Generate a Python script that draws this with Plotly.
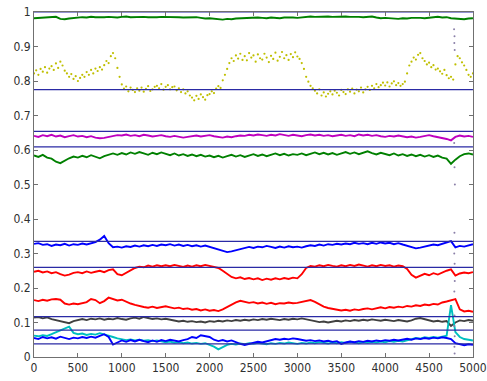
import plotly.graph_objects as go

x_step = 50
x_vals = list(range(0, 5001, x_step))
x_yel = list(range(0, 5001, 25))

green_top = [0.982,0.983,0.984,0.985,0.984,0.986,0.980,0.979,0.981,0.983,
 0.984,0.985,0.984,0.986,0.985,0.984,0.985,0.986,0.985,0.984,
 0.986,0.987,0.985,0.986,0.987,0.986,0.985,0.984,0.985,0.986,
 0.986,0.987,0.986,0.985,0.984,0.985,0.986,0.985,0.983,0.981,
 0.982,0.980,0.979,0.978,0.980,0.979,0.981,0.982,0.983,0.982,
 0.983,0.984,0.983,0.982,0.984,0.983,0.982,0.984,0.985,0.984,
 0.983,0.985,0.986,0.987,0.986,0.987,0.988,0.987,0.986,0.987,
 0.988,0.987,0.986,0.987,0.986,0.985,0.986,0.987,0.984,0.982,
 0.983,0.982,0.981,0.980,0.982,0.981,0.983,0.984,0.983,0.982,
 0.984,0.985,0.986,0.984,0.985,0.982,0.981,0.980,0.979,0.981,
 0.982]

yellow = [0.822,0.831,0.818,0.835,0.827,0.840,0.824,0.836,
 0.843,0.832,0.851,0.838,0.856,0.845,0.830,0.822,
 0.812,0.820,0.806,0.814,0.800,0.809,0.818,0.812,
 0.826,0.818,0.832,0.822,0.836,0.829,0.840,0.833,
 0.846,0.858,0.852,0.872,0.881,0.866,0.838,0.812,
 0.790,0.778,0.784,0.770,0.781,0.774,0.768,0.779,
 0.772,0.781,0.769,0.777,0.785,0.771,0.776,0.783,
 0.786,0.779,0.791,0.775,0.783,0.788,0.776,0.782,
 0.784,0.773,0.779,0.768,0.776,0.764,0.770,0.758,
 0.752,0.744,0.757,0.748,0.761,0.753,0.746,0.759,
 0.762,0.770,0.765,0.778,0.785,0.780,0.802,0.818,
 0.835,0.852,0.866,0.858,0.874,0.865,0.879,0.861,
 0.872,0.860,0.881,0.868,0.874,0.856,0.877,0.866,
 0.862,0.879,0.868,0.855,0.873,0.864,0.882,0.859,
 0.870,0.884,0.866,0.875,0.861,0.878,0.869,0.883,
 0.871,0.864,0.852,0.835,0.812,0.798,0.786,0.779,
 0.772,0.764,0.776,0.758,0.767,0.755,0.763,0.770,
 0.761,0.772,0.766,0.758,0.774,0.768,0.762,0.776,
 0.769,0.778,0.764,0.775,0.770,0.781,0.767,0.776,
 0.783,0.774,0.786,0.779,0.791,0.782,0.788,0.795,
 0.787,0.796,0.784,0.793,0.799,0.788,0.794,0.786,
 0.791,0.798,0.822,0.845,0.856,0.868,0.862,0.876,
 0.881,0.866,0.858,0.848,0.853,0.840,0.846,0.833,
 0.836,0.828,0.821,0.832,0.817,0.808,0.812,0.804,
 0.848,0.872,0.866,0.854,0.845,0.832,0.818,0.812,
 0.822]

magenta = [0.641,0.638,0.643,0.640,0.644,0.639,0.642,0.637,0.640,0.643,
 0.639,0.641,0.637,0.640,0.636,0.634,0.635,0.638,0.641,0.643,
 0.642,0.645,0.641,0.643,0.640,0.644,0.642,0.639,0.641,0.643,
 0.640,0.638,0.641,0.639,0.636,0.638,0.640,0.642,0.639,0.641,
 0.643,0.640,0.638,0.636,0.639,0.637,0.640,0.642,0.641,0.644,
 0.642,0.645,0.643,0.641,0.644,0.642,0.646,0.643,0.641,0.644,
 0.642,0.640,0.643,0.645,0.642,0.644,0.641,0.643,0.640,0.642,
 0.644,0.641,0.643,0.640,0.645,0.642,0.644,0.641,0.643,0.640,
 0.638,0.641,0.639,0.642,0.640,0.637,0.639,0.636,0.638,0.641,
 0.643,0.640,0.638,0.635,0.632,0.628,0.638,0.642,0.639,0.641,
 0.638]

green_mid = [0.584,0.580,0.586,0.578,0.575,0.566,0.562,0.570,0.576,0.581,
 0.578,0.583,0.579,0.585,0.581,0.576,0.582,0.587,0.590,0.586,
 0.591,0.587,0.593,0.589,0.594,0.590,0.586,0.592,0.588,0.593,
 0.589,0.585,0.590,0.584,0.588,0.583,0.587,0.582,0.586,0.581,
 0.584,0.579,0.583,0.578,0.582,0.586,0.581,0.585,0.580,0.584,
 0.588,0.583,0.587,0.582,0.586,0.590,0.585,0.589,0.584,0.588,
 0.586,0.590,0.585,0.589,0.593,0.588,0.592,0.587,0.591,0.586,
 0.590,0.594,0.589,0.593,0.588,0.592,0.596,0.591,0.587,0.592,
 0.589,0.585,0.590,0.584,0.588,0.583,0.587,0.582,0.586,0.581,
 0.585,0.580,0.584,0.578,0.575,0.560,0.572,0.582,0.588,0.590,
 0.587]

blue_upper = [0.328,0.330,0.325,0.327,0.322,0.326,0.324,0.328,0.323,0.327,
 0.325,0.329,0.326,0.330,0.333,0.340,0.351,0.330,0.318,0.320,
 0.317,0.321,0.319,0.323,0.320,0.324,0.321,0.325,0.322,0.326,
 0.324,0.327,0.323,0.326,0.322,0.325,0.321,0.324,0.320,0.323,
 0.319,0.316,0.312,0.307,0.304,0.306,0.309,0.313,0.317,0.319,
 0.316,0.320,0.318,0.322,0.319,0.316,0.320,0.317,0.321,0.318,
 0.320,0.317,0.321,0.324,0.322,0.326,0.323,0.327,0.325,0.328,
 0.326,0.329,0.327,0.331,0.328,0.330,0.327,0.331,0.328,0.332,
 0.329,0.331,0.327,0.330,0.326,0.323,0.318,0.315,0.317,0.320,
 0.323,0.326,0.324,0.328,0.330,0.336,0.318,0.322,0.320,0.324,
 0.327]

red_upper = [0.247,0.250,0.245,0.248,0.243,0.246,0.240,0.236,0.239,0.244,
 0.246,0.243,0.248,0.244,0.247,0.250,0.246,0.252,0.254,0.240,
 0.237,0.244,0.252,0.258,0.262,0.260,0.265,0.262,0.266,0.263,
 0.266,0.263,0.267,0.264,0.261,0.265,0.262,0.266,0.263,0.267,
 0.264,0.262,0.258,0.250,0.240,0.232,0.228,0.231,0.226,0.229,
 0.225,0.228,0.223,0.227,0.224,0.228,0.225,0.229,0.226,0.230,
 0.228,0.240,0.258,0.264,0.262,0.266,0.263,0.267,0.264,0.262,
 0.266,0.263,0.267,0.264,0.268,0.265,0.262,0.266,0.263,0.267,
 0.264,0.266,0.262,0.265,0.263,0.255,0.238,0.230,0.236,0.241,
 0.237,0.243,0.239,0.245,0.250,0.254,0.236,0.242,0.245,0.243,
 0.246]

red_lower = [0.165,0.162,0.166,0.163,0.167,0.168,0.166,0.155,0.152,0.155,
 0.153,0.156,0.159,0.168,0.165,0.156,0.162,0.172,0.168,0.164,
 0.166,0.160,0.155,0.151,0.147,0.145,0.143,0.146,0.142,0.145,
 0.147,0.144,0.141,0.143,0.139,0.141,0.137,0.139,0.135,0.138,
 0.134,0.136,0.133,0.138,0.145,0.152,0.158,0.163,0.160,0.157,
 0.159,0.155,0.158,0.154,0.157,0.153,0.156,0.155,0.158,0.156,
 0.157,0.160,0.162,0.165,0.160,0.153,0.146,0.142,0.140,0.137,
 0.135,0.137,0.134,0.138,0.136,0.139,0.141,0.138,0.142,0.144,
 0.141,0.145,0.143,0.146,0.144,0.148,0.146,0.150,0.148,0.152,
 0.150,0.154,0.152,0.158,0.161,0.165,0.168,0.138,0.132,0.134,
 0.131]

gray = [0.114,0.116,0.112,0.115,0.110,0.107,0.104,0.100,0.098,0.104,
 0.108,0.110,0.107,0.111,0.109,0.112,0.108,0.111,0.109,0.113,
 0.110,0.108,0.112,0.114,0.111,0.116,0.113,0.110,0.112,0.109,
 0.111,0.108,0.106,0.103,0.105,0.102,0.104,0.101,0.103,0.100,
 0.104,0.102,0.105,0.103,0.106,0.104,0.107,0.105,0.108,0.106,
 0.109,0.107,0.110,0.108,0.111,0.109,0.107,0.110,0.108,0.111,
 0.109,0.112,0.110,0.107,0.104,0.101,0.103,0.100,0.102,0.105,
 0.103,0.106,0.104,0.107,0.105,0.108,0.106,0.109,0.107,0.105,
 0.108,0.106,0.104,0.107,0.105,0.103,0.106,0.111,0.113,0.109,
 0.106,0.103,0.105,0.102,0.104,0.090,0.100,0.106,0.104,0.107,
 0.105]

cyan = [0.062,0.060,0.063,0.061,0.066,0.072,0.078,0.084,0.088,0.070,
 0.066,0.068,0.064,0.067,0.065,0.069,0.066,0.063,0.058,0.054,
 0.052,0.049,0.051,0.048,0.050,0.047,0.049,0.046,0.048,0.045,
 0.043,0.045,0.041,0.043,0.040,0.042,0.039,0.041,0.038,0.040,
 0.036,0.030,0.022,0.028,0.035,0.038,0.036,0.039,0.037,0.040,
 0.038,0.041,0.039,0.037,0.040,0.038,0.041,0.039,0.042,0.040,
 0.038,0.041,0.039,0.042,0.040,0.043,0.041,0.039,0.042,0.040,
 0.043,0.041,0.044,0.042,0.040,0.043,0.041,0.044,0.042,0.045,
 0.043,0.046,0.044,0.047,0.045,0.048,0.052,0.055,0.053,0.057,
 0.055,0.058,0.056,0.059,0.062,0.150,0.072,0.058,0.052,0.050,
 0.048]

blue_lower = [0.055,0.052,0.058,0.054,0.057,0.053,0.059,0.055,0.052,0.056,
 0.054,0.058,0.055,0.059,0.056,0.061,0.066,0.058,0.036,0.042,
 0.048,0.044,0.049,0.045,0.050,0.046,0.043,0.048,0.044,0.049,
 0.046,0.050,0.047,0.045,0.049,0.052,0.058,0.055,0.063,0.060,
 0.058,0.050,0.046,0.049,0.045,0.048,0.042,0.038,0.035,0.038,
 0.041,0.044,0.042,0.046,0.049,0.052,0.050,0.053,0.051,0.054,
 0.052,0.050,0.047,0.049,0.046,0.048,0.045,0.047,0.044,0.046,
 0.038,0.042,0.045,0.043,0.046,0.044,0.047,0.045,0.048,0.046,
 0.049,0.047,0.050,0.048,0.051,0.053,0.050,0.054,0.052,0.055,
 0.053,0.056,0.054,0.057,0.055,0.052,0.040,0.036,0.034,0.037,
 0.035]

transient_x = [4785, 4790, 4788, 4792, 4786, 4790, 4794, 4789, 4787, 4791,
               4793, 4788, 4790, 4786, 4792, 4789, 4791]
transient_y = [0.95, 0.93, 0.91, 0.89, 0.62, 0.55, 0.50, 0.36, 0.30, 0.27,
               0.22, 0.19, 0.12, 0.09, 0.06, 0.03, 0.01]

ref_levels = [1.0, 0.775, 0.654, 0.609, 0.335, 0.260, 0.117, 0.078, 0.038]

x_ticks = [0, 500, 1000, 1500, 2000, 2500, 3000, 3500, 4000, 4500, 5000]
y_ticks = [0, 0.1, 0.2, 0.3, 0.4, 0.5, 0.6, 0.7, 0.8, 0.9, 1]
y_tick_labels = ["0", "0.1", "0.2", "0.3", "0.4", "0.5", "0.6", "0.7", "0.8", "0.9", "1"]

fig = go.Figure()

line_series = [
    (green_top, "#008000"),
    (magenta, "#bf00bf"),
    (green_mid, "#008000"),
    (blue_upper, "#0000ff"),
    (red_upper, "#ff0000"),
    (red_lower, "#ff0000"),
    (gray, "#404040"),
    (cyan, "#00bfbf"),
    (blue_lower, "#0000ff"),
]
for vals, col in line_series:
    fig.add_trace(go.Scatter(x=x_vals, y=vals, mode="lines",
                             line=dict(color=col, width=1.9), showlegend=False,
                             hoverinfo="skip"))

fig.add_trace(go.Scatter(x=x_yel, y=yellow, mode="markers",
                         marker=dict(color="#bfbf00", size=2.2), showlegend=False,
                         hoverinfo="skip"))

fig.add_trace(go.Scatter(x=transient_x, y=transient_y, mode="markers",
                         marker=dict(color="#8a7fa8", size=2), showlegend=False,
                         hoverinfo="skip"))

for lev in ref_levels:
    fig.add_trace(go.Scatter(x=[x_ticks[0], x_ticks[-1]], y=[lev, lev], mode="lines",
                             line=dict(color="#2a2aa5", width=1.2), showlegend=False,
                             hoverinfo="skip"))

axis_common = dict(showline=True, linecolor="#707070", linewidth=1, mirror="allticks",
                   ticks="inside", ticklen=4, tickcolor="#707070", showgrid=False,
                   zeroline=False, automargin=False, ticklabeloverflow="allow",
                   tickfont=dict(family="DejaVu Sans Condensed, Liberation Sans Narrow, Arial",
                                 size=12, color="#303030"))

fig.update_layout(
    width=487, height=381,
    margin=dict(l=34, r=14, t=12, b=24),
    paper_bgcolor="white", plot_bgcolor="white",
    xaxis=dict(range=[0, 5000.5], tickvals=x_ticks, **axis_common),
    yaxis=dict(range=[0, 1], tickvals=y_ticks, ticktext=y_tick_labels, **axis_common),
)

fig.write_html("out.html")
